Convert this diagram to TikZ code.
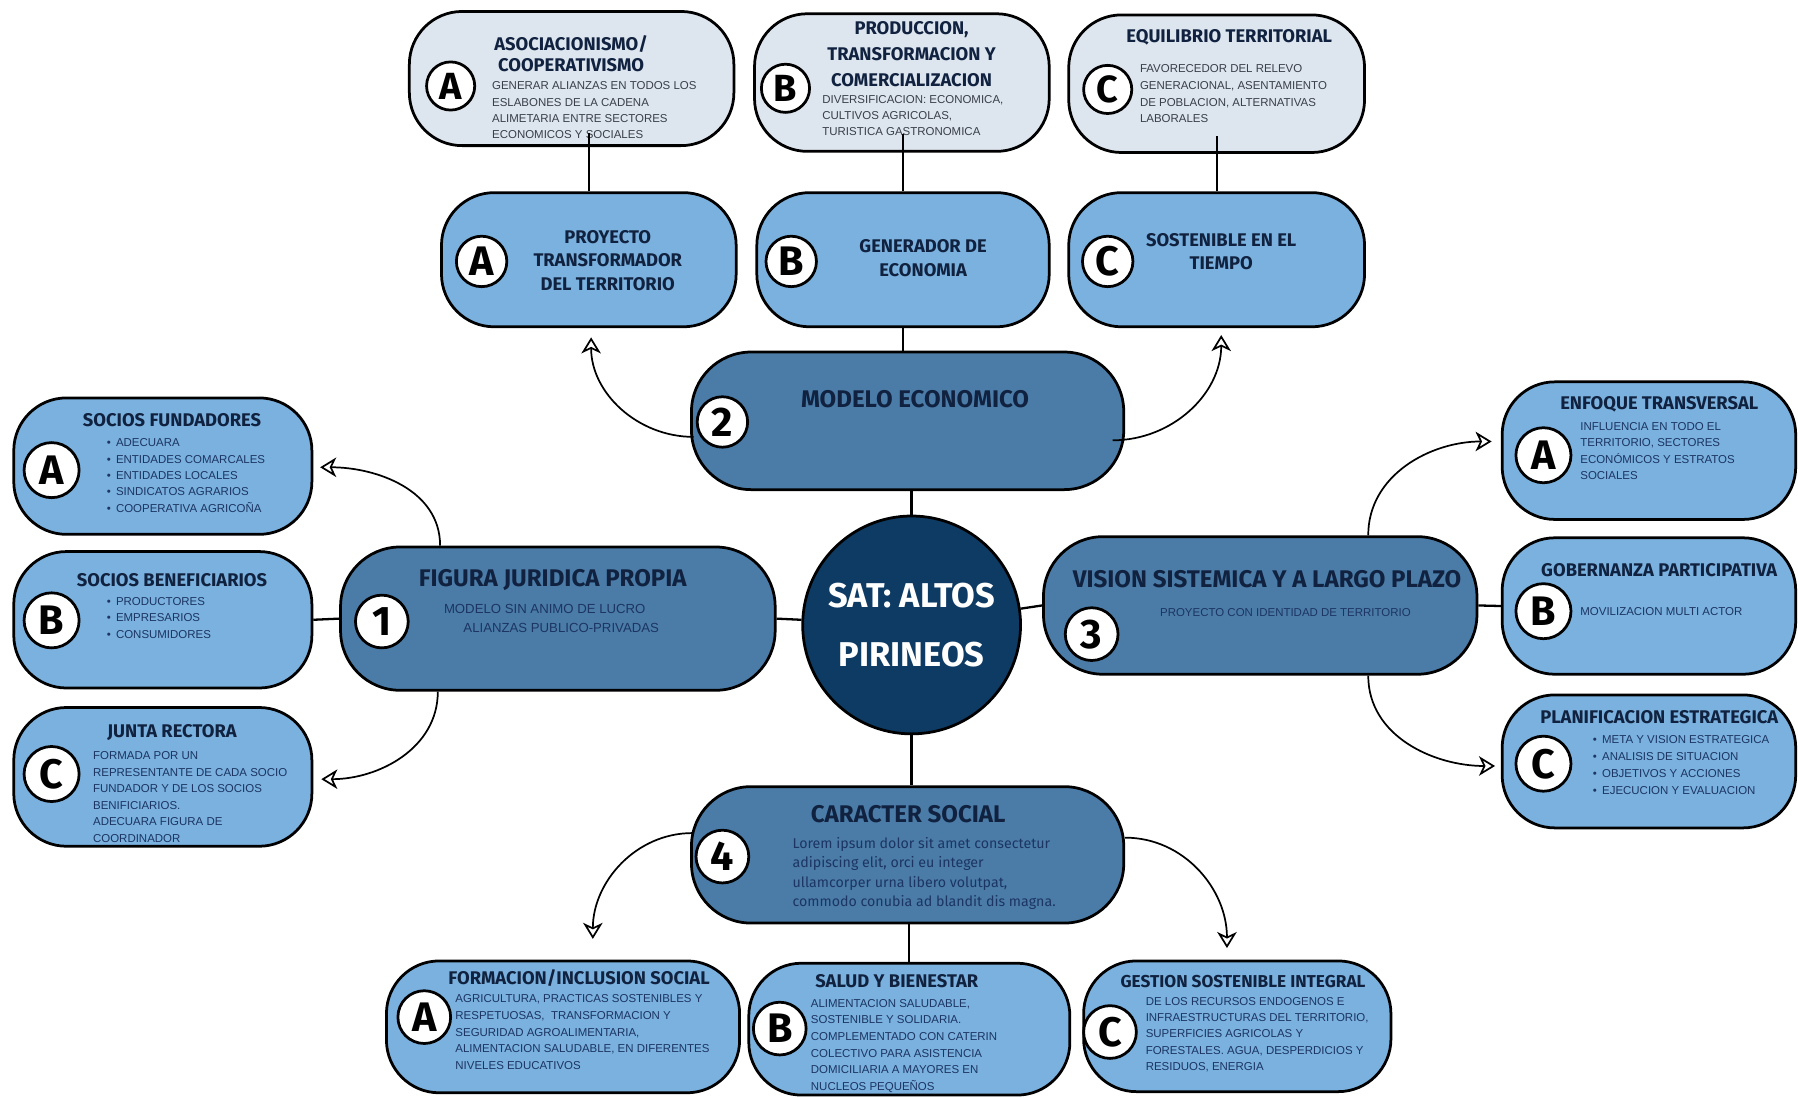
\documentclass[tikz,border=0pt]{standalone}
\usepackage{fontspec}
\setmainfont{Liberation Sans}
\newfontfamily\headfont{Fira Sans}
\usetikzlibrary{arrows.meta}
\usetikzlibrary{calc}

\definecolor{paleblue}{HTML}{DDE5EE}
\definecolor{leafblue}{HTML}{7AB1DE}
\definecolor{branchblue}{HTML}{4B7CA8}
\definecolor{coreblue}{HTML}{0E3B63}
\definecolor{titlenavy}{HTML}{10223F}
\definecolor{bodynavy}{HTML}{1C3563}
\definecolor{bodygrey}{HTML}{3A3F4A}
\newcommand{\itemdot}{\makebox[8pt][l]{\textbullet}}

\begin{document}
\begin{tikzpicture}[x=1pt,y=-1pt,line width=2.4pt,>={Stealth[open,length=14pt,width=17pt,inset=4pt]}]
\tikzstyle{pill}=[draw=black,rounded corners=46pt,inner sep=0pt]
\tikzstyle{pale}=[pill,fill=paleblue]
\tikzstyle{leaf}=[pill,fill=leafblue]
\tikzstyle{branch}=[pill,fill=branchblue,rounded corners=52pt]
\tikzstyle{core}=[circle,draw=black,fill=coreblue,minimum size=190,inner sep=0pt]
\tikzstyle{badge}=[circle,draw=black,fill=white,inner sep=0pt,minimum size=46,font=\headfont\bfseries\fontsize{36}{36}\selectfont]
\tikzstyle{ttl}=[inner sep=0pt,text=titlenavy,align=center,font=\headfont\bfseries\fontsize{16}{20}\selectfont]
\tikzstyle{bigttl}=[ttl,font=\headfont\bfseries\fontsize{21}{24}\selectfont]
\tikzstyle{txt}=[inner sep=0pt,anchor=north west,align=left,text=bodynavy,font=\fontsize{10}{14.3}\selectfont]
\tikzstyle{link}=[line width=2pt]
\tikzstyle{curl}=[->,line width=1.5pt]
\useasboundingbox[fill=white] (0,0) rectangle (1568,957);

% boxes
\node[pale,minimum width=283,minimum height=117] (tA) at (498.5,68.5) {};
\node[pale,minimum width=257,minimum height=120] (tB) at (786.5,72) {};
\node[pale,minimum width=258,minimum height=120] (tC) at (1061,73) {};
\node[leaf,minimum width=257,minimum height=117] (mA) at (513.5,226.5) {};
\node[leaf,minimum width=255,minimum height=117] (mB) at (787.5,226.5) {};
\node[leaf,minimum width=258,minimum height=117] (mC) at (1061,226.5) {};
\node[branch,minimum width=377,minimum height=120] (modelo) at (791.5,367) {};
\node[branch,minimum width=379,minimum height=125] (figura) at (486.5,539.5) {};
\node[branch,minimum width=378,minimum height=120] (vision) at (1099,528) {};
\node[branch,minimum width=377,minimum height=119] (caracter) at (791.5,745.5) {};
\node[core] (centro) at (795,545) {};
\node[leaf,minimum width=260,minimum height=119] (lA) at (142,406.5) {};
\node[leaf,minimum width=260,minimum height=119] (lB) at (142,540.5) {};
\node[leaf,minimum width=260,minimum height=121] (lC) at (142,677.5) {};
\node[leaf,minimum width=256,minimum height=120] (rA) at (1438,393) {};
\node[leaf,minimum width=256,minimum height=119] (rB) at (1438,528.5) {};
\node[leaf,minimum width=256,minimum height=116] (rC) at (1438,664) {};
\node[leaf,minimum width=308,minimum height=115] (bA) at (491,895.5) {};
\node[leaf,minimum width=280,minimum height=115] (bB) at (793,897.5) {};
\node[leaf,minimum width=268,minimum height=114] (bC) at (1079,895) {};

% texts
\node[ttl,anchor=north,font=\headfont\bfseries\fontsize{16}{19}\selectfont] (tAt) at (498,29.5) {ASOCIACIONISMO/\\COOPERATIVISMO};
\node[txt,text=bodygrey,font=\fontsize{10}{14}\selectfont] (tAd) at (428,70.3) {GENERAR ALIANZAS EN TODOS LOS\\ESLABONES DE LA CADENA\\ALIMETARIA ENTRE SECTORES\\ECONOMICOS Y SOCIALES};
\node[ttl,anchor=north,font=\headfont\bfseries\fontsize{16}{22.5}\selectfont] (tBt) at (795,17.5) {PRODUCCION,\\TRANSFORMACION Y\\COMERCIALIZACION};
\node[txt,text=bodygrey,font=\fontsize{10}{14}\selectfont] (tBd) at (716,82.3) {DIVERSIFICACION: ECONOMICA,\\CULTIVOS AGRICOLAS,\\TURISTICA GASTRONOMICA};
\node[ttl] (tCt) at (1072,33) {EQUILIBRIO TERRITORIAL};
\node[txt,text=bodygrey,font=\fontsize{10}{14.5}\selectfont] (tCd) at (993,55.3) {FAVORECEDOR DEL RELEVO\\GENERACIONAL, ASENTAMIENTO\\DE POBLACION, ALTERNATIVAS\\LABORALES};
\node[ttl,anchor=north,font=\headfont\bfseries\fontsize{16}{20.5}\selectfont] (mAt) at (530,199.5) {PROYECTO\\TRANSFORMADOR\\DEL TERRITORIO};
\node[ttl,anchor=north,font=\headfont\bfseries\fontsize{16}{21}\selectfont] (mBt) at (805,207.5) {GENERADOR DE\\ECONOMIA};
\node[ttl,anchor=north,font=\headfont\bfseries\fontsize{16}{20}\selectfont] (mCt) at (1065,202.5) {SOSTENIBLE EN EL\\TIEMPO};
\node[bigttl] (modelot) at (798,348) {MODELO ECONOMICO};
\node[ttl,text=white,font=\headfont\bfseries\fontsize{30}{51}\selectfont] (centrot) at (centro) {SAT: ALTOS\\PIRINEOS};
\node[bigttl] (figurat) at (482,506) {FIGURA JURIDICA PROPIA};
\node[txt,anchor=west,font=\fontsize{11.5}{14}\selectfont] (figurad) at (386,531) {MODELO SIN ANIMO DE LUCRO};
\node[txt,anchor=west,font=\fontsize{11.5}{14}\selectfont] (figurae) at (403,548) {ALIANZAS PUBLICO-PRIVADAS};
\node[bigttl] (visiont) at (1105,505) {VISION SISTEMICA Y A LARGO PLAZO};
\node[txt,anchor=center,font=\fontsize{10}{14}\selectfont] (visiond) at (1121,534) {PROYECTO CON IDENTIDAD DE TERRITORIO};
\node[bigttl] (caractert) at (792,710) {CARACTER SOCIAL};
\node[txt,font=\headfont\fontsize{12.4}{17}\selectfont] (caracterd) at (690,729) {Lorem ipsum dolor sit amet consectetur\\adipiscing elit, orci eu integer\\ullamcorper urna libero volutpat,\\commodo conubia ad blandit dis magna.};
\node[ttl] (lAt) at (150,366) {SOCIOS FUNDADORES};
\node[txt] (lAd) at (92,381.3) {\itemdot ADECUARA\\\itemdot ENTIDADES COMARCALES\\\itemdot ENTIDADES LOCALES\\\itemdot SINDICATOS AGRARIOS\\\itemdot COOPERATIVA AGRICOÑA};
\node[ttl] (lBt) at (150,506) {SOCIOS BENEFICIARIOS};
\node[txt,font=\fontsize{10}{14.5}\selectfont] (lBd) at (92,519.5) {\itemdot PRODUCTORES\\\itemdot EMPRESARIOS\\\itemdot CONSUMIDORES};
\node[ttl] (lCt) at (150,639) {JUNTA RECTORA};
\node[txt,font=\fontsize{10}{14.4}\selectfont] (lCd) at (80,654.3) {FORMADA POR UN\\REPRESENTANTE DE CADA SOCIO\\FUNDADOR Y DE LOS SOCIOS\\BENIFICIARIOS.\\ADECUARA FIGURA DE\\COORDINADOR};
\node[ttl] (rAt) at (1447,353) {ENFOQUE TRANSVERSAL};
\node[txt] (rAd) at (1377,367.3) {INFLUENCIA EN TODO EL\\TERRITORIO, SECTORES\\ECONÓMICOS Y ESTRATOS\\SOCIALES};
\node[ttl] (rBt) at (1447,497) {GOBERNANZA PARTICIPATIVA};
\node[txt,anchor=west] (rBd) at (1377,533) {MOVILIZACION MULTI ACTOR};
\node[ttl] (rCt) at (1447,625) {PLANIFICACION ESTRATEGICA};
\node[txt,font=\fontsize{10}{14.7}\selectfont] (rCd) at (1388,640.3) {\itemdot META Y VISION ESTRATEGICA\\\itemdot ANALISIS DE SITUACION\\\itemdot OBJETIVOS Y ACCIONES\\\itemdot EJECUCION Y EVALUACION};
\node[ttl] (bAt) at (505,853) {FORMACION/INCLUSION SOCIAL};
\node[txt,font=\fontsize{10}{14.5}\selectfont] (bAd) at (396,866.3) {AGRICULTURA, PRACTICAS SOSTENIBLES Y\\RESPETUOSAS,\ \ TRANSFORMACION Y\\SEGURIDAD AGROALIMENTARIA,\\ALIMENTACION SALUDABLE, EN DIFERENTES\\NIVELES EDUCATIVOS};
\node[ttl] (bBt) at (782,856) {SALUD Y BIENESTAR};
\node[txt,font=\fontsize{10}{14.5}\selectfont] (bBd) at (706,870.3) {ALIMENTACION SALUDABLE,\\SOSTENIBLE Y SOLIDARIA.\\COMPLEMENTADO CON CATERIN\\COLECTIVO PARA ASISTENCIA\\DOMICILIARIA A MAYORES EN\\NUCLEOS PEQUEÑOS};
\node[ttl,font=\headfont\bfseries\fontsize{15}{20}\selectfont] (bCt) at (1084,856) {GESTION SOSTENIBLE INTEGRAL};
\node[txt,font=\fontsize{10}{14.3}\selectfont] (bCd) at (998,868.3) {DE LOS RECURSOS ENDOGENOS E\\INFRAESTRUCTURAS DEL TERRITORIO,\\SUPERFICIES AGRICOLAS Y\\FORESTALES. AGUA, DESPERDICIOS Y\\RESIDUOS, ENERGIA};

% links
\path[link] (mA.north) edge ($(mA.north |- tA.south)+(0,-12)$)
	(mB.north) edge ($(mB.north |- tB.south)+(0,-16)$)
	(mC.north) edge ($(mC.north |- tC.south)+(0,-16)$)
	(mB.south) edge (mB.south |- modelo.north)
	(centro.north) edge (centro.north |- modelo.south)
	(centro) edge (figura.east)
	(figura.west) edge (lB.east)
	(centro) edge (vision.west)
	(vision.east) edge (rB.west)
	(centro.south) edge (centro.south |- caracter.north)
	(bB.north) edge (bB.north |- caracter.south);

% curved arrows
\draw[curl] ($(modelo.west)+(3,14)$) to[out=180,in=-90] ($(mA.south)+(2,8)$);
\draw[curl] ($(modelo.east)+(-11,17)$) to[out=0,in=-90] ($(mC.south)+(4,6)$);
\draw[curl] ($(figura.north west)+(88,0)$) to[out=90,in=0] ($(lA.east)+(6,1)$);
\draw[curl] ($(figura.south west)+(86,0)$) to[out=-90,in=0] ($(lC.east)+(7,2)$);
\draw[curl] ($(vision.north east)+(-96,0)$) to[out=90,in=180] ($(rA.west)+(-8,-8)$);
\draw[curl] ($(vision.south east)+(-96,0)$) to[out=-90,in=180] ($(rC.west)+(-5,4)$);
\draw[curl] ($(caracter.west)+(2,-19)$) to[out=180,in=90] ($(bA.north)+(26,-18)$);
\draw[curl] ($(caracter.east)+(0,-15)$) to[out=0,in=90] ($(bC.north)+(-9,-10)$);

% badges
\node[badge,minimum size=42,font=\headfont\bfseries\fontsize{33}{33}\selectfont] (tAb) at (393,75) {A};
\node[badge,minimum size=42,font=\headfont\bfseries\fontsize{33}{33}\selectfont] (tBb) at (685,77) {B};
\node[badge,minimum size=42,font=\headfont\bfseries\fontsize{33}{33}\selectfont] (tCb) at (966,78) {C};
\node[badge,minimum size=44] (mAb) at (420,228) {A};
\node[badge,minimum size=44] (mBb) at (690,228) {B};
\node[badge,minimum size=44] (mCb) at (966,228) {C};
\node[badge,minimum size=44] (n2) at (630,368) {2};
\node[badge] (n1) at (333,542) {1};
\node[badge] (n3) at (952,553) {3};
\node[badge] (n4) at (630,747) {4};
\node[badge,minimum size=48] (lAb) at (45,410) {A};
\node[badge,minimum size=48] (lBb) at (45,541) {B};
\node[badge,minimum size=48] (lCb) at (45,675) {C};
\node[badge,minimum size=48] (rAb) at (1346,397) {A};
\node[badge,minimum size=48] (rBb) at (1346,533) {B};
\node[badge,minimum size=48] (rCb) at (1346,666) {C};
\node[badge] (bAb) at (370,887) {A};
\node[badge] (bBb) at (680,897) {B};
\node[badge] (bCb) at (968,900) {C};
\end{tikzpicture}
\end{document}
